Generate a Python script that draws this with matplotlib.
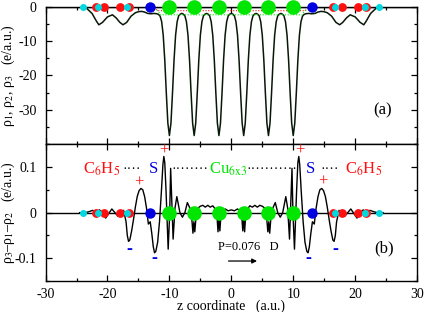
import numpy as np
import matplotlib.pyplot as plt
from matplotlib.ticker import MultipleLocator

plt.rcParams['font.family'] = ['Liberation Serif', 'DejaVu Serif']
plt.rcParams['mathtext.fontset'] = 'stix'
plt.rcParams['axes.unicode_minus'] = False

## atom positions along z (a.u.)
z_cu = [-10, -6, -2, 2, 6, 10]
z_s = [-13.1, 13.1]
z_c = [-21.8, -20.5, -17.9, -16.5, 16.5, 17.9, 20.5, 21.8]
z_h = [-23.9, -21.6, -16.8, 16.8, 21.6, 23.9]

## panel (a): rho_3 density profile
z_top = [-30, -24.2, -23.5, -22.5, -21.8, -21.4, -20.8, -20.0, -19.2, -18.6, -18.0, -17.5,
         -16.9, -16.2, -15.5, -15.0, -14.5, -14.0, -13.5, -13.0, -12.5, -12.0, -11.75,
         -11.5, -11.25, -11.0, -10.75, -10.5, -10.25, -10.0, -9.75, -9.5, -9.25, -9.0,
         -8.75, -8.5, -8.25, -8.0, -7.75, -7.5, -7.25, -7.0, -6.75, -6.5, -6.25, -6.0,
         -5.75, -5.5, -5.25, -5.0, -4.75, -4.5, -4.25, -4.0, -3.75, -3.5, -3.25, -3.0,
         -2.75, -2.5, -2.25, -2.0, -1.75, -1.5, -1.25, -1.0, -0.75, -0.5, -0.25, 0.0,
         0.25, 0.5, 0.75, 1.0, 1.25, 1.5, 1.75, 2.0, 2.25, 2.5, 2.75, 3.0, 3.25, 3.5,
         3.75, 4.0, 4.25, 4.5, 4.75, 5.0, 5.25, 5.5, 5.75, 6.0, 6.25, 6.5, 6.75, 7.0,
         7.25, 7.5, 7.75, 8.0, 8.25, 8.5, 8.75, 9.0, 9.25, 9.5, 9.75, 10.0, 10.25, 10.5,
         10.75, 11.0, 11.25, 11.5, 11.75, 12.0, 12.5, 13.0, 13.5, 14.0, 14.5, 15.0, 15.5,
         16.2, 16.9, 17.5, 18.0, 18.6, 19.2, 20.0, 20.8, 21.4, 21.8, 22.5, 23.5, 24.2, 30]
rho3 = [0.0, 0.0, -0.3, -2.0, -4.2, -5.3, -4.6, -3.0, -2.4, -3.3, -4.6, -5.3,
        -4.6, -2.8, -1.8, -1.5, -1.4, -1.6, -2.0, -2.1, -2.0, -2.1, -2.3,
        -2.8, -4.4, -8.3, -15.5, -25.1, -33.9, -37.5, -33.9, -25.1, -15.5, -8.3,
        -4.4, -2.7, -2.2, -2.0, -2.2, -2.7, -4.4, -8.3, -15.5, -25.1, -33.9, -37.5,
        -33.9, -25.1, -15.5, -8.3, -4.4, -2.7, -2.2, -2.0, -2.2, -2.7, -4.4, -8.3,
        -15.5, -25.1, -33.9, -37.5, -33.9, -25.1, -15.5, -8.3, -4.4, -2.7, -2.2, -2.0,
        -2.2, -2.7, -4.4, -8.3, -15.5, -25.1, -33.9, -37.5, -33.9, -25.1, -15.5, -8.3, -4.4, -2.7,
        -2.2, -2.0, -2.2, -2.7, -4.4, -8.3, -15.5, -25.1, -33.9, -37.5, -33.9, -25.1, -15.5, -8.3,
        -4.4, -2.7, -2.2, -2.0, -2.2, -2.7, -4.4, -8.3, -15.5, -25.1, -33.9, -37.5, -33.9, -25.1,
        -15.5, -8.3, -4.4, -2.8, -2.3, -2.1, -2.0, -2.1, -2.0, -1.6, -1.4, -1.5, -1.8,
        -2.8, -4.6, -5.3, -4.6, -3.3, -2.4, -3.0, -4.6, -5.3, -4.2, -2.0, -0.3, 0.0, 0.0]

## rho_1 and rho_2 only show where they leave rho_3 (near the S-Cu contact)
z_r1 = [-12.6, -12.2, -11.9, 11.9, 12.2, 12.6]
rho1 = [-0.5, -0.8, -1.2, -1.2, -0.8, -0.5]
z_r2 = [-12.0, -11.7, -11.5, 11.5, 11.7, 12.0]
rho2 = [-1.0, -1.6, -2.4, -2.4, -1.6, -1.0]

## panel (b): rho_3 - rho_1 - rho_2
z_bot = [-24.5, -23.6, -23.0, -22.4, -21.8, -21.3, -20.8, -20.3, -19.8, -19.3, -18.8, -18.3,
         -17.8, -17.4, -17.0, -16.8, -16.6, -16.4, -16.1, -15.8, -15.5, -15.2, -14.9, -14.6,
         -14.3, -14.0, -13.7, -13.4, -13.1, -12.85, -12.6, -12.4, -12.2, -11.9, -11.6, -11.3,
         -11.05, -10.9, -10.75, -10.55, -10.2, -9.95, -9.8, -9.4, -9.1, -8.8, -8.3, -7.9,
         -7.5, -7.1, -6.7, -6.4, -6.2, -6.05, -5.9, -5.7, -5.4, -5.0, -4.6, -4.2, -3.8,
         -3.4, -3.0, -2.6, -2.3, -2.15, -2.0, -1.85, -1.7, -1.4, -1.0, -0.5, 0.0,
         0.5, 1.0, 1.4, 1.7, 1.85, 2.0, 2.15, 2.3, 2.6, 3.0, 3.4, 3.8, 4.2, 4.6, 5.0,
         5.4, 5.7, 5.9, 6.05, 6.2, 6.4, 6.7, 7.1, 7.5, 7.9, 8.3, 8.8, 9.1, 9.4, 9.8,
         9.95, 10.2, 10.55, 10.75, 10.9, 11.05, 11.3, 11.6, 11.9, 12.2, 12.4, 12.6, 12.85,
         13.1, 13.4, 13.7, 14.0, 14.3, 14.6, 14.9, 15.2, 15.5, 15.8, 16.1, 16.4, 16.6,
         16.8, 17.0, 17.4, 17.8, 18.3, 18.8, 19.3, 19.8, 20.3, 20.8, 21.3, 21.8, 22.4,
         23.0, 23.6, 24.5]
drho = [0.0, 0.0, 0.002, 0.005, 0.0, 0.006, 0.0, -0.012, -0.002, 0.008, 0.0, -0.008,
        0.0, 0.005, -0.02, -0.05, -0.063, -0.06, -0.04, -0.015, 0.012, 0.035, 0.048, 0.053,
        0.05, 0.035, 0.01, -0.025, -0.02, -0.045, -0.075, -0.088, -0.085, -0.065, -0.02, 0.045,
        0.105, 0.123, 0.11, 0.05, -0.08, 0.0, 0.097, -0.058, 0.01, 0.035, 0.0, -0.01,
        0.0, 0.022, 0.01, -0.01, -0.045, -0.02, -0.042, -0.01, 0.01, 0.014, 0.016, 0.012, 0.016,
        0.012, 0.015, 0.008, -0.01, -0.042, -0.01, -0.04, -0.01, 0.004, 0.008, 0.004, 0.006,
        0.004, 0.008, 0.004, -0.01, -0.04, -0.01, -0.042, -0.01, 0.008, 0.015, 0.012, 0.016, 0.012, 0.016, 0.014,
        0.01, -0.01, -0.042, -0.02, -0.045, -0.01, 0.01, 0.022, 0.0, -0.01, 0.0, 0.035, 0.01, -0.058, 0.097,
        0.0, -0.08, 0.05, 0.11, 0.123, 0.105, 0.045, -0.02, -0.065, -0.085, -0.088, -0.075, -0.045,
        -0.02, -0.025, 0.01, 0.035, 0.05, 0.053, 0.048, 0.035, 0.012, -0.015, -0.04, -0.06, -0.063,
        -0.05, -0.02, 0.005, 0.0, -0.008, 0.0, 0.008, -0.002, -0.012, 0.0, 0.006, 0.0, 0.005,
        0.002, 0.0, 0.0]

## signs of the charge transfer lobes
z_plus = [-14.9, -10.9, 11.0, 14.85]
y_plus = [0.066, 0.135, 0.135, 0.068]
z_minus = [-16.4, -12.4, 12.5, 16.85]
y_minus = [-0.08, -0.101, -0.101, -0.08]

green = '#00e600'
red = '#ff1010'
blue = '#0000e0'
cyan = '#00d8e0'


def draw_atoms(ax):
    ax.plot(z_cu, np.zeros(len(z_cu)), 'o', color=green, ms=9.5, mec=green, clip_on=False, zorder=5)
    ax.plot(z_s, np.zeros(len(z_s)), 'o', color=blue, ms=6.5, mec=blue, clip_on=False, zorder=5)
    ax.plot(z_c, np.zeros(len(z_c)), 'o', color=red, ms=5.3, mec=red, clip_on=False, zorder=5)
    ax.plot(z_h, np.zeros(len(z_h)), 'o', color=cyan, ms=4.0, mec=cyan, clip_on=False, zorder=6)


def style_axis(ax):
    ax.set_xlim(-30, 30)
    ax.xaxis.set_major_locator(MultipleLocator(10))
    ax.xaxis.set_minor_locator(MultipleLocator(5))
    ax.tick_params(which='both', direction='in', top=True, right=True, labelsize=10)
    ax.tick_params(which='major', length=4.2, width=0.9)
    ax.tick_params(which='minor', length=2.2, width=0.9)
    ax.tick_params(axis='x', pad=5)
    ax.tick_params(axis='y', pad=6.5)
    for s in ax.spines.values():
        s.set_linewidth(1.0)


fig = plt.figure(figsize=(4.26, 3.12), dpi=100)
ax1 = fig.add_axes([0.107, 0.538, 0.872, 0.441])
ax2 = fig.add_axes([0.107, 0.099, 0.872, 0.439])

## (a)
ax1.axhline(0, color='k', lw=1.0)
ax1.plot(z_top, rho3, color='#081808', lw=1.1)
ax1.plot(z_r1, rho1, color=red, lw=0.8, ls=(0, (1, 1.5)))
ax1.plot(z_r2, rho2, color=green, lw=0.8, ls=(0, (1, 1.5)))
draw_atoms(ax1)
style_axis(ax1)
ax1.set_ylim(-40, 0)
ax1.yaxis.set_major_locator(MultipleLocator(10))
ax1.yaxis.set_minor_locator(MultipleLocator(5))
ax1.set_yticks([-30, -20, -10, 0])
ax1.tick_params(labelbottom=False)
ax1.set_ylabel('ρ$_1$, ρ$_2$, ρ$_3$   (e/a.u.)', fontsize=10)
ax1.yaxis.set_label_coords(-0.077, 0.5)
ax1.text(24.4, -30.3, '(a)', fontsize=12, ha='center', va='center')

## (b)
ax2.axhline(0, color='k', lw=1.0)
ax2.plot(z_bot, drho, color='k', lw=1.0)
draw_atoms(ax2)
style_axis(ax2)
ax2.set_ylim(-0.15, 0.15)
ax2.set_yticks([-0.1, 0, 0.1])
ax2.set_yticklabels(['-0.1', '0', '0.1'])
ax2.yaxis.set_minor_locator(MultipleLocator(0.05))
ax2.set_xlabel('z coordinate   (a.u.)', fontsize=10)
ax2.xaxis.set_label_coords(0.5, -0.135)
ax2.set_ylabel('ρ$_3$–ρ$_1$–ρ$_2$   (e/a.u.)', fontsize=10)
ax2.yaxis.set_label_coords(-0.077, 0.5)

## fragment labels
ax2.text(-24.0, 0.086, 'C$_6$H$_5$', color=red, fontsize=12, ha='left', va='baseline')
ax2.text(-17.6, 0.086, '····', color='k', fontsize=10, ha='left', va='baseline')
ax2.text(-12.6, 0.086, 'S', color=blue, fontsize=12, ha='center', va='baseline')
ax2.text(-9.7, 0.086, '········', color='k', fontsize=10, ha='left', va='baseline')
ax2.text(-3.6, 0.086, 'Cu$_{6\\mathrm{x}3}$', color=green, fontsize=12, ha='left', va='baseline')
ax2.text(2.5, 0.086, '···········', color='k', fontsize=10, ha='left', va='baseline')
ax2.text(12.8, 0.086, 'S', color=blue, fontsize=12, ha='center', va='baseline')
ax2.text(14.4, 0.086, '····', color='k', fontsize=10, ha='left', va='baseline')
ax2.text(18.3, 0.086, 'C$_6$H$_5$', color=red, fontsize=12, ha='left', va='baseline')

for z, y in zip(z_plus, y_plus):
    ax2.text(z, y, '+', color=red, fontsize=12, ha='center', va='center')
for z, y in zip(z_minus, y_minus):
    ax2.text(z, y, '-', color=blue, fontsize=13, ha='center', va='center', fontweight='bold')

ax2.text(-2.2, -0.082, 'P=0.076   D', fontsize=9, ha='left', va='baseline')
ax2.annotate('', xy=(4.6, -0.106), xytext=(-0.9, -0.106),
             arrowprops=dict(arrowstyle='-|>', color='k', lw=0.9, mutation_scale=7))
ax2.text(24.6, -0.078, '(b)', fontsize=12, ha='center', va='center')

plt.savefig('out.png', dpi=100)
